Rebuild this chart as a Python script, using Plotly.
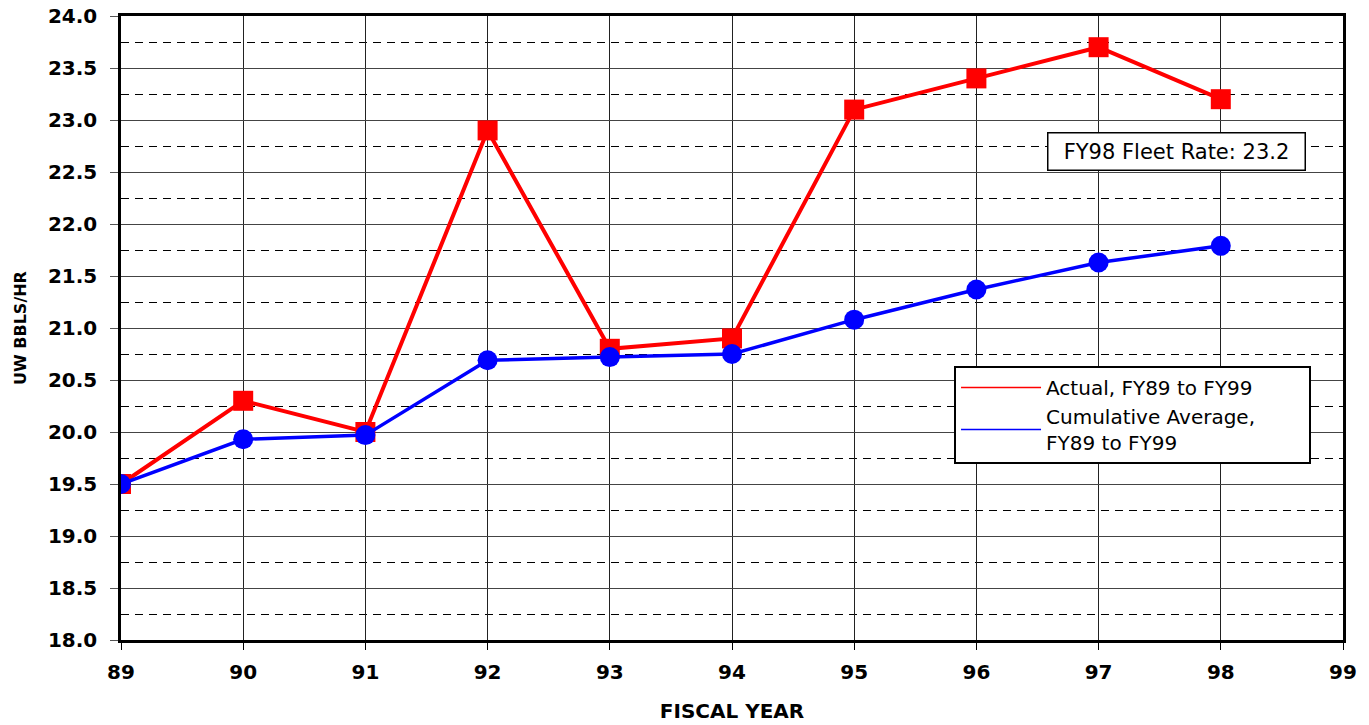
import plotly.graph_objects as go

years = [89, 90, 91, 92, 93, 94, 95, 96, 97, 98]
actual = [19.5, 20.3, 20.0, 22.9, 20.8, 20.9, 23.1, 23.4, 23.7, 23.2]
cum_avg = [19.5, 19.93, 19.97, 20.69, 20.72, 20.75, 21.08, 21.37, 21.63, 21.79]
x_ticks = list(range(89, 100))
y_ticks = [18.0 + 0.5 * i for i in range(13)]
y_labels = ["%.1f" % v for v in y_ticks]

FONT = "DejaVu Sans"
PAD = "\u00a0" * 8

fig = go.Figure()
fig.add_trace(go.Scatter(
    x=years, y=actual, mode="lines+markers", showlegend=False,
    line=dict(color="#ff0000", width=4),
    marker=dict(symbol="square", size=20, color="#ff0000"),
))
fig.add_trace(go.Scatter(
    x=years, y=cum_avg, mode="lines+markers", showlegend=False,
    line=dict(color="#0000ff", width=3.5),
    marker=dict(symbol="circle", size=20, color="#0000ff"),
))
# legend-only entries (lines without markers)
fig.add_trace(go.Scatter(
    x=[None], y=[None], mode="lines", name="Actual, FY89 to FY99" + PAD,
    line=dict(color="#ff0000", width=1.5),
))
fig.add_trace(go.Scatter(
    x=[None], y=[None], mode="lines", name="Cumulative Average,<br>FY89 to FY99",
    line=dict(color="#0000ff", width=1.5),
))

fig.add_annotation(
    x=97.64, y=22.70, xref="x", yref="y",
    text="FY98 Fleet Rate: 23.2", showarrow=False,
    font=dict(family=FONT, size=21, color="black"),
    bgcolor="white", bordercolor="black", borderwidth=1.5,
    width=250, height=30, borderpad=3,
)

fig.update_layout(
    width=1369, height=725,
    margin=dict(l=121, r=26, t=16, b=85, autoexpand=False),
    paper_bgcolor="white", plot_bgcolor="white",
    font=dict(family=FONT, color="black"),
    legend=dict(
        x=0.6817, y=0.439, xanchor="left", yanchor="top",
        bgcolor="white", bordercolor="black", borderwidth=2,
        font=dict(family=FONT, size=20, color="black"),
        itemwidth=80, tracegroupgap=0,
    ),
)

fig.update_xaxes(
    range=[89, 99], tickvals=x_ticks, ticktext=[str(v) for v in x_ticks],
    tickfont=dict(family=FONT, size=20, color="black", weight="bold"),
    ticks="outside", ticklen=7, tickcolor="black", tickwidth=1,
    showgrid=True, gridcolor="#222222", gridwidth=1,
    showline=True, linecolor="black", linewidth=2.5, mirror=True,
    zeroline=False, ticklabelstandoff=5, automargin=False,
    ticklabeloverflow="allow",
    title=dict(text="<b>FISCAL YEAR</b>", font=dict(family=FONT, size=20, color="black"), standoff=22),
)
fig.update_yaxes(
    range=[18, 24], tickvals=y_ticks, ticktext=y_labels,
    tickfont=dict(family=FONT, size=20, color="black", weight="bold"),
    ticks="outside", ticklen=8, tickcolor="#555555", tickwidth=1,
    showgrid=True, gridcolor="#444444", gridwidth=1,
    minor=dict(dtick=0.25, tick0=18.0, showgrid=True, gridcolor="black",
               gridwidth=1, griddash="8px,6px", ticks=""),
    showline=True, linecolor="black", linewidth=2.5, mirror=True,
    zeroline=False, ticklabelstandoff=9, automargin=False,
    ticklabeloverflow="allow",
    title=dict(text="<b>UW BBLS/HR</b>", font=dict(family=FONT, size=16, color="black"), standoff=18),
)

# remove the default 8px page margin so the figure fills the window exactly
fig.write_html("out.html", config={"displayModeBar": False},
               post_script="document.body.style.margin='0';")
